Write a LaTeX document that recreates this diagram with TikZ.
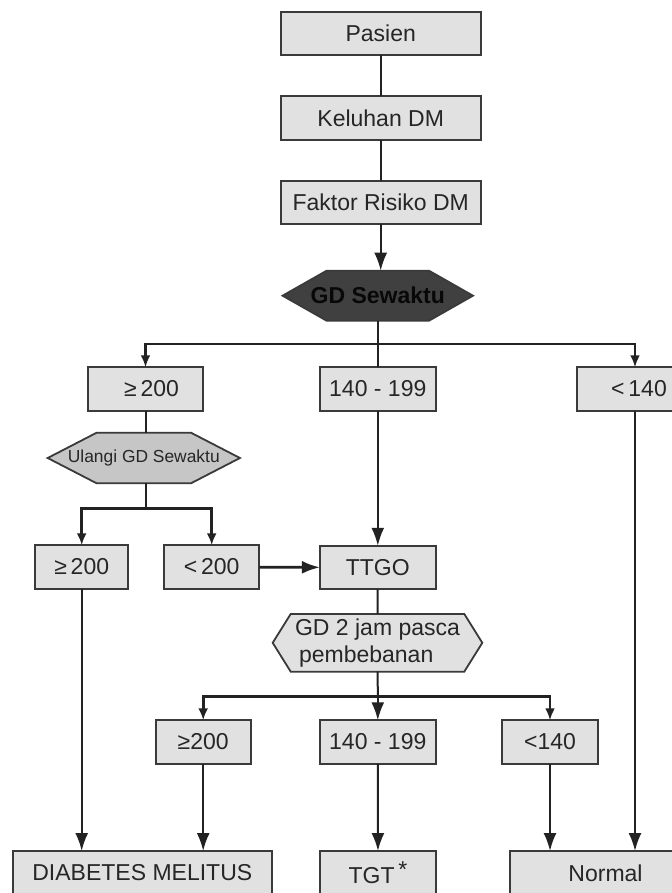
\documentclass[tikz,border=0pt]{standalone}
\usepackage{fontspec}
\setmainfont{Liberation Sans}
\usetikzlibrary{arrows.meta,backgrounds}
\definecolor{boxfill}{HTML}{E1E1E1}
\definecolor{boxline}{HTML}{3A3A3A}
\definecolor{linkc}{HTML}{222222}
\definecolor{darkhex}{HTML}{404040}
\definecolor{midhex}{HTML}{C6C6C6}
\tikzset{
  box/.style={draw=boxline, fill=boxfill, line width=0.9pt, minimum height=21.75pt,
    inner sep=0pt, outer sep=0pt, text=black!85, font=\fontsize{11.5}{13.5}\selectfont},
  hexa/.style={inner sep=0pt, outer sep=0pt, align=center, text=black!85},
  hexline/.style={draw=boxline, line width=0.9pt},
  link/.style={draw=linkc, line width=1pt},
  arrow/.style={link, -{Latex[length=9pt,width=6.5pt]}},
  bus/.style={draw=linkc, line width=1.4pt, -{Latex[length=6pt,width=5pt]}},
}
\begin{document}
\begin{tikzpicture}[x=0.5pt,y=-0.5pt]
  \useasboundingbox (0,0) rectangle (672,893);
  % main column
  \node[box, minimum width=100pt] at (380.7, 33.4) (pasien)  {Pasien};
  \node[box, minimum width=100pt] at (380.7,118.0) (keluhan) {Keluhan DM};
  \node[box, minimum width=100pt] at (380.7,202.5) (faktor)  {Faktor Risiko DM};
  \node[hexa, minimum width=95.2pt, minimum height=25pt, text=black!97,
        font=\bfseries\fontsize{11.5}{13.5}\selectfont] at (377.8,295.7) (gds) {GD Sewaktu};
  % first split
  \node[box, minimum width=57.8pt]  at (145.5,389) (hi1)  {\hspace{6pt}≥\,200};
  \node[box, minimum width=57.85pt] at (377.8,389) (mid1) {140 - 199};
  \node[box, minimum width=58.3pt]  at (635.0,389) (lo1)  {\hspace{4pt}<\,140};
  \node[hexa, minimum width=96.15pt, minimum height=25.3pt,
        font=\fontsize{8.7}{10}\selectfont] at (143.8,458) (ulangi) {Ulangi GD Sewaktu};
  % second split
  \node[box, minimum width=46.65pt] at ( 81.7,567)   (hi2)  {≥\,200};
  \node[box, minimum width=47.65pt] at (211.7,567)   (lo2)  {<\,200};
  \node[box, minimum width=57.85pt] at (377.8,567.5) (ttgo) {TTGO};
  \node[hexa, minimum width=104.8pt, minimum height=28.85pt, align=left,
        font=\fontsize{11.5}{13.5}\selectfont] at (377.5,642.8) (gd2)
        {GD 2 jam pasca\\\hspace{2pt}pembebanan};
  % third split
  \node[box, minimum width=47.5pt]  at (203.2,742) (hi3)  {≥200};
  \node[box, minimum width=57.85pt] at (377.8,742) (mid3) {140 - 199};
  \node[box, minimum width=47.7pt]  at (550.0,742) (lo3)  {<140};
  % results
  \node[box, minimum width=129.4pt, minimum height=22pt] at (142.3,873) (dm)     {DIABETES MELITUS};
  \node[box, minimum width=58pt,    minimum height=22pt] at (378.0,873) (tgt)    {TGT\,\raisebox{0.5ex}{*}};
  \node[box, minimum width=95.5pt,  minimum height=22pt] at (605.5,873) (normal) {Normal};
  % hexagon outlines
  \begin{scope}[on background layer]
    \draw[hexline, fill=darkhex] (gds.west) -- ([xshift=22pt]gds.north west) -- ([xshift=-22pt]gds.north east)
      -- (gds.east) -- ([xshift=-22pt]gds.south east) -- ([xshift=22pt]gds.south west) -- cycle;
    \draw[hexline, fill=midhex] (ulangi.west) -- ([xshift=24.5pt]ulangi.north west) -- ([xshift=-24.5pt]ulangi.north east)
      -- (ulangi.east) -- ([xshift=-24.5pt]ulangi.south east) -- ([xshift=24.5pt]ulangi.south west) -- cycle;
    \draw[hexline, fill=boxfill] (gd2.west) -- ([xshift=9pt]gd2.north west) -- ([xshift=-9pt]gd2.north east)
      -- (gd2.east) -- ([xshift=-9pt]gd2.south east) -- ([xshift=9pt]gd2.south west) -- cycle;
  \end{scope}
  % connectors
  \draw[link] (pasien) -- (keluhan);
  \draw[link] (keluhan) -- (faktor);
  \draw[arrow] (faktor.south) -- (faktor.south |- gds.north);
  \coordinate (fork1) at (377.8,344);
  \draw[link] (gds.south) -- (gds.south |- mid1.north);
  \draw[bus] (fork1) -| (hi1);
  \draw[bus] (fork1) -| (lo1);
  \draw[arrow] (mid1) -- (ttgo);
  \draw[arrow] (lo1) -- (lo1 |- normal.north);
  \draw[link] (hi1) -- (hi1 |- ulangi.north);
  \coordinate (fork2) at (145.5,508.3);
  \draw[link] (hi1 |- ulangi.south) -- (fork2);
  \draw[bus] (fork2) -| (hi2);
  \draw[bus] (fork2) -| (lo2);
  \draw[arrow, line width=1.4pt] (lo2) -- (ttgo);
  \draw[arrow] (hi2) -- (hi2 |- dm.north);
  \draw[link] (ttgo) -- (gd2);
  \coordinate (fork3) at (377.8,696.5);
  \draw[link] (gd2) -- (fork3);
  \draw[bus] (fork3) -| (hi3);
  \draw[bus] (fork3) -| (lo3);
  \draw[arrow] (fork3) -- (mid3);
  \draw[arrow] (hi3) -- (hi3 |- dm.north);
  \draw[arrow] (mid3) -- (tgt);
  \draw[arrow] (lo3) -- (lo3 |- normal.north);
\end{tikzpicture}
\end{document}
